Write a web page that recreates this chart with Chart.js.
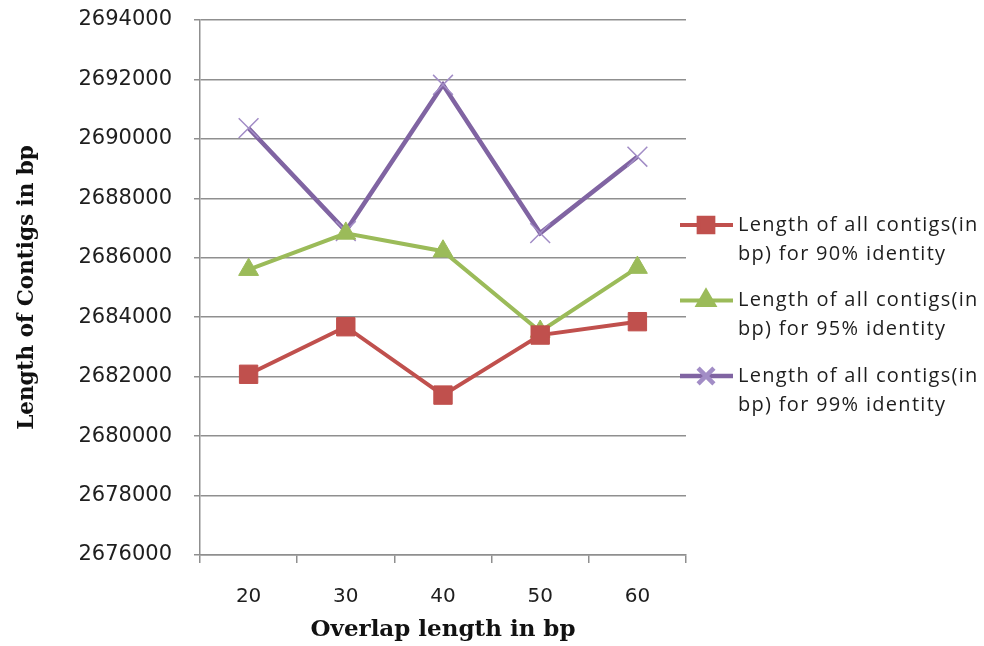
<!DOCTYPE html>
<html>
<head>
<meta charset="utf-8">
<title>Length of Contigs vs Overlap length</title>
<script src="https://cdn.jsdelivr.net/npm/chart.js@4.4.1/dist/chart.umd.min.js"></script>
<style>
  html, body { margin: 0; padding: 0; background: #fff; }
  #wrap { width: 984px; height: 646px; }
</style>
</head>
<body>
<div id="wrap"><canvas id="contigChart" width="984" height="646"></canvas></div>
<script>
// Overlap lengths (bp) on the x axis
const overlapLengths = ['20', '30', '40', '50', '60'];

// Total contig length (bp) per identity threshold
const identity90 = [2682080, 2683680, 2681380, 2683400, 2683850];
const identity95 = [2685600, 2686820, 2686220, 2683520, 2685670];
const identity99 = [2690360, 2686900, 2691820, 2686830, 2689400];

const seriesLabels = [
    ['Length of all contigs(in', 'bp) for 90% identity'],
    ['Length of all contigs(in', 'bp) for 95% identity'],
    ['Length of all contigs(in', 'bp) for 99% identity']
];

const yMin = 2676000;
const yMax = 2694000;
const yStep = 2000;

const GRID = '#8f8f8f';
const TEXT = '#1e1e1e';

// Legend on the right, two text lines per entry
const sideLegend = {
    id: 'sideLegend',
    afterDraw(chart) {
        const ctx = chart.ctx;
        const left = chart.chartArea.right - 6;
        const top = 225;
        const itemGap = 75.5;
        const lineGap = 29;

        ctx.save();
        chart.data.datasets.forEach((ds, i) => {
            const y = top + i * itemGap;

            ctx.strokeStyle = ds.borderColor;
            ctx.lineWidth = ds.borderWidth;
            ctx.beginPath();
            ctx.moveTo(left, y);
            ctx.lineTo(left + 53, y);
            ctx.stroke();

            ctx.fillStyle = ds.pointBackgroundColor;
            ctx.strokeStyle = ds.pointBorderColor;
            Chart.helpers.drawPoint(ctx, {
                pointStyle: ds.pointStyle,
                radius: ds.pointRadius * 0.8,
                rotation: 0,
                borderWidth: ds.pointBorderWidth
            }, left + 26, y);

            ctx.fillStyle = TEXT;
            ctx.font = '20px "Open Sans"';
            ctx.letterSpacing = '1.3px';
            ctx.textBaseline = 'middle';
            ctx.textAlign = 'left';
            seriesLabels[i].forEach((line, j) => {
                ctx.fillText(line, left + 58, y + j * lineGap);
            });
        });
        ctx.restore();
    }
};

const ctx = document.getElementById('contigChart');

new Chart(ctx, {
    type: 'line',
    data: {
        labels: overlapLengths,
        datasets: [{
            label: seriesLabels[0].join(' '),
            data: identity90,
            borderColor: '#c0504d',
            borderWidth: 4,
            pointStyle: 'rect',
            pointRadius: 13,
            pointBackgroundColor: '#c0504d',
            pointBorderColor: '#c0504d',
            pointBorderWidth: 1
        }, {
            label: seriesLabels[1].join(' '),
            data: identity95,
            borderColor: '#9bbb59',
            borderWidth: 4,
            pointStyle: 'triangle',
            pointRadius: 11.5,
            pointBackgroundColor: '#9bbb59',
            pointBorderColor: '#9bbb59',
            pointBorderWidth: 1
        }, {
            label: seriesLabels[2].join(' '),
            data: identity99,
            borderColor: '#8064a2',
            borderWidth: 4.5,
            pointStyle: 'crossRot',
            pointRadius: 14,
            pointBackgroundColor: '#a28dc6',
            pointBorderColor: '#a28dc6',
            pointBorderWidth: 1.5
        }]
    },
    options: {
        responsive: false,
        animation: false,
        layout: {
            padding: { left: 0, right: 298, top: 20, bottom: 0 }
        },
        plugins: {
            legend: { display: false },
            tooltip: { enabled: false }
        },
        elements: {
            line: { tension: 0 }
        },
        scales: {
            x: {
                offset: true,
                grid: {
                    offset: true,
                    drawOnChartArea: false,
                    color: GRID,
                    lineWidth: 1.5,
                    tickLength: 8
                },
                border: { color: GRID, width: 1.5 },
                ticks: {
                    color: TEXT,
                    padding: 22,
                    font: { family: 'DejaVu Sans', size: 20 }
                },
                title: {
                    display: true,
                    text: 'Overlap length in bp',
                    color: '#111',
                    padding: { top: 0, bottom: 2 },
                    font: { family: 'DejaVu Serif', size: 23, weight: 'bold' }
                },
                afterFit(scale) { scale.height = 91; }
            },
            y: {
                min: yMin,
                max: yMax,
                grid: {
                    color: GRID,
                    lineWidth: 1.5,
                    tickLength: 6
                },
                border: { color: GRID, width: 1.5 },
                ticks: {
                    stepSize: yStep,
                    color: TEXT,
                    padding: 22,
                    font: { family: 'DejaVu Sans', size: 21 },
                    callback: value => String(value)
                },
                title: {
                    display: true,
                    text: 'Length of Contigs in bp',
                    color: '#111',
                    padding: { top: 15, bottom: 0 },
                    font: { family: 'DejaVu Serif', size: 21.5, weight: 'bold' }
                },
                afterFit(scale) {
                    // keep the plot top fixed; tick label overflow fits in the layout padding
                    scale.width = 200;
                    scale.paddingTop = 0;
                    scale.paddingBottom = 0;
                }
            }
        }
    },
    plugins: [sideLegend]
});
</script>
</body>
</html>
